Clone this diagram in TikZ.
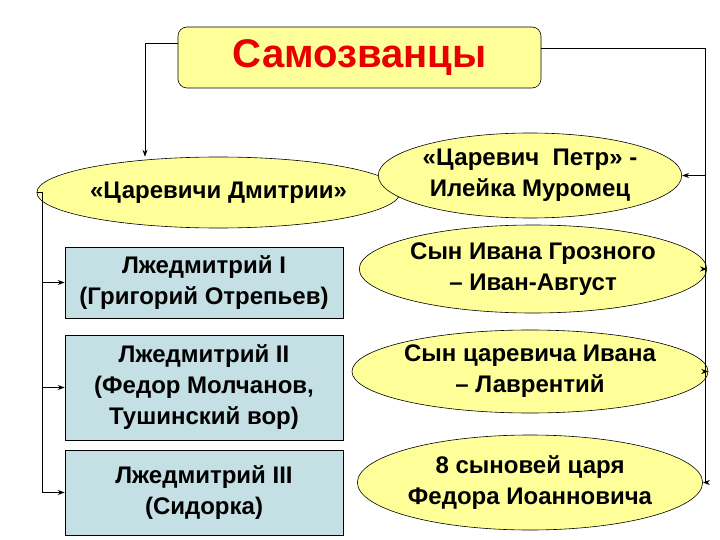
\documentclass[tikz,border=0pt]{standalone}
\usepackage{fontspec}
\setmainfont{Liberation Sans}
\usetikzlibrary{shapes.geometric,arrows.meta}
\definecolor{yel}{HTML}{FFFF99}
\definecolor{blu}{HTML}{C4E0E4}
\definecolor{ttl}{HTML}{E60000}
\tikzset{
  txt/.style={font=\fontsize{24}{31}\selectfont\bfseries, align=center, inner sep=0pt},
  ell/.style={txt, ellipse, draw=black, fill=yel, line width=0.6pt},
  box/.style={txt, rectangle, draw=black, fill=blu, line width=0.6pt},
  con/.style={line width=0.8pt, -{Stealth[length=7pt,width=5pt]}},
}
\begin{document}
\begin{tikzpicture}[x=1pt,y=-1pt]
\useasboundingbox (0,0) rectangle (720,540);
\node[draw=black, fill=yel, rounded corners=9pt, minimum width=363pt, minimum height=61pt, line width=0.6pt,
  font=\fontsize{40}{46}\selectfont\bfseries, text=ttl] (t) at (359.5,57.5) {Самозванцы};
\node[ell, minimum width=283pt, minimum height=71pt] (d) at (218.5,192.5) {«Царевичи Дмитрии»};
\node[box, minimum width=278pt, minimum height=71pt] (b1) at (204,282.5) {Лжедмитрий I\\(Григорий Отрепьев)};
\node[box, minimum width=278pt, minimum height=105pt] (b2) at (204,387.5) {Лжедмитрий II\\(Федор Молчанов,\\Тушинский вор)};
\node[box, minimum width=278pt, minimum height=85pt] (b3) at (204,492.5) {Лжедмитрий III\\(Сидорка)};
\node[ell, minimum width=295pt, minimum height=85pt] (r1) at (530,175.5) {«Царевич~ Петр» -\\Илейка Муромец};
\node[ell, minimum width=290pt, minimum height=88pt] (r2) at (533,269) {Сын Ивана Грозного\\– Иван-Август};
\node[ell, minimum width=290pt, minimum height=83pt] (r3) at (530,371.5) {Сын царевича Ивана\\– Лаврентий};
\node[ell, minimum width=290pt, minimum height=95pt] (r4) at (530,482.5) {8 сыновей царя\\Федора Иоанновича};
\coordinate (lx) at (145,0);
\coordinate (rx) at (705,0);
\coordinate (dx) at (42,0);
\draw[con] (t.west|-0,43) -| (d.north-|lx);
\draw[line width=0.8pt] (t.east|-0,48) -| (rx|-r4.east);
\draw[con] (rx|-r1.east) -- (r1.east);
\draw[con] (rx|-r2.east) -- (r2.east);
\draw[con] (rx|-r3.east) -- (r3.east);
\draw[con] (rx|-r4.east) -- (r4.east);
\draw[line width=0.8pt] (d.west) -| (dx|-b3.west);
\draw[con] (dx|-b1.west) -- (b1.west);
\draw[con] (dx|-b2.west) -- (b2.west);
\draw[con] (dx|-b3.west) -- (b3.west);
\end{tikzpicture}
\end{document}
